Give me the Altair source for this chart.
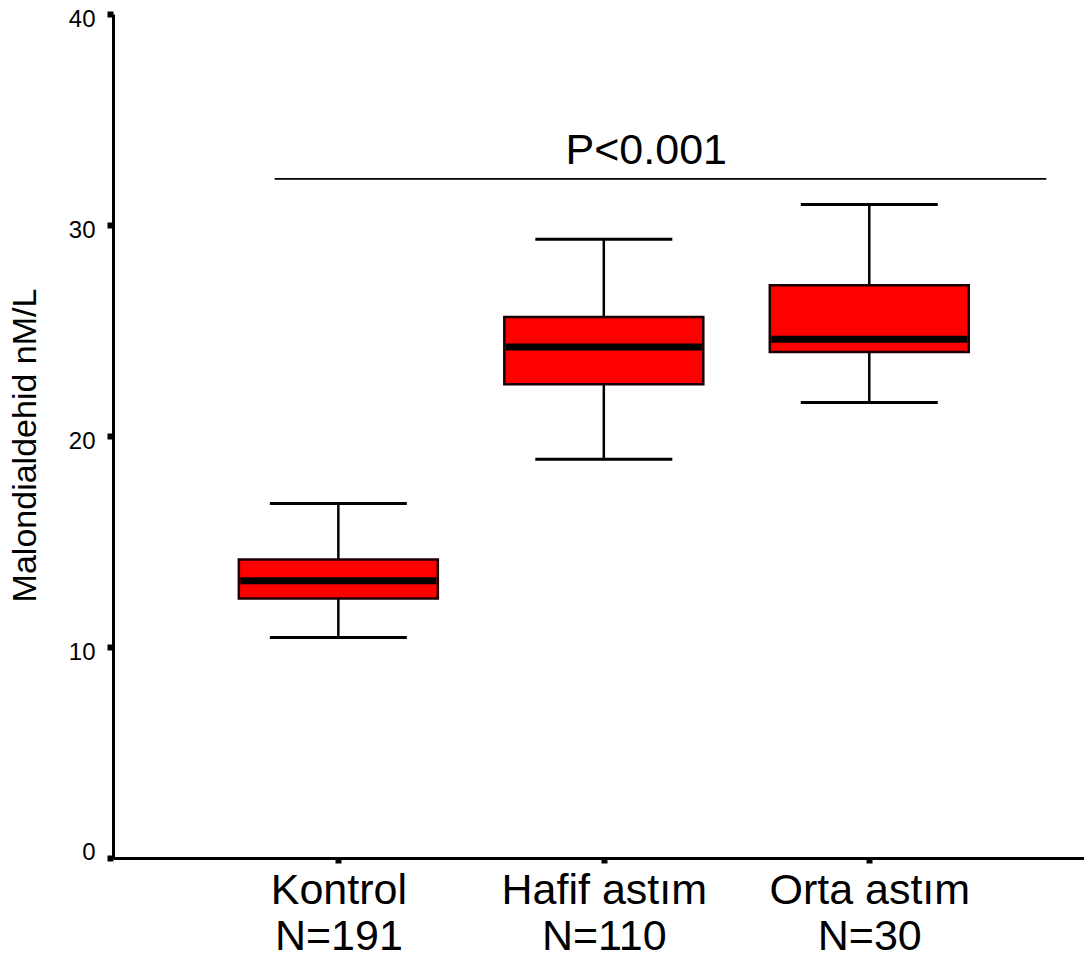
import altair as alt
import pandas as pd

# Data
groups = ["Kontrol", "Hafif astım", "Orta astım"]
n_labels = ["N=191", "N=110", "N=30"]
positions = [0, 1, 2]
whisker_low = [10.45, 18.90, 21.59]
q1 = [12.30, 22.45, 23.98]
median = [13.14, 24.22, 24.59]
q3 = [14.15, 25.64, 27.14]
whisker_high = [16.80, 29.32, 30.97]

# significance annotation
p_text = ["P<0.001"]
p_line_start = [-0.24]
p_line_end = [2.667]
p_line_y = [32.19]
p_text_x = [1.16]
p_text_y = [32.9]

y_ticks = [0, 10, 20, 30, 40]
x_domain = [-0.83, 2.79]
y_domain = [0, 40]

df = pd.DataFrame({
    "pos": positions, "group": groups, "n": n_labels,
    "low": whisker_low, "q1": q1, "med": median, "q3": q3, "high": whisker_high,
})
ann = pd.DataFrame({
    "x0": p_line_start, "x1": p_line_end, "ly": p_line_y,
    "tx": p_text_x, "ty": p_text_y, "label": p_text,
})

FONT = "Liberation Sans"

label_expr = " : ".join(
    [f"datum.value == {p} ? ['{g}', '{n}']" for p, g, n in zip(positions, groups, n_labels)]
) + " : ''"

xscale = alt.Scale(domain=x_domain, nice=False, zero=False)
yscale = alt.Scale(domain=y_domain, nice=False, zero=False)

x_enc = alt.X(
    "pos:Q", scale=xscale,
    axis=alt.Axis(
        values=positions, labelExpr=label_expr, title=None, grid=False,
        labelFontSize=43, labelLineHeight=46, labelFont=FONT, labelColor="black",
        labelPadding=6, tickSize=5, tickWidth=6, tickColor="black", labelLimit=0,
        domainWidth=3, domainColor="black", labelBaseline="top",
    ),
)
y_enc = alt.Y(
    "low:Q", scale=yscale,
    axis=alt.Axis(
        values=y_ticks, title="Malondialdehid nM/L", grid=False,
        labelFontSize=24, labelFont=FONT, labelColor="black", labelPadding=12,
        labelOffset={"condition": {"test": "datum.value == 0", "value": -6}, "value": 5},
        tickSize=6, tickWidth=6, tickColor="black", domainWidth=3, domainColor="black",
        titleFontSize=34, titleFont=FONT, titleFontWeight="normal", titleColor="black",
        titlePadding=26, titleY=431,
    ),
)

base = alt.Chart(df)

whiskers = base.mark_rule(color="black", strokeWidth=2.5, opacity=1).encode(
    x=x_enc, y=y_enc, y2="high:Q"
)
cap_low = base.mark_tick(orient="horizontal", size=137, thickness=3, color="black", opacity=1).encode(
    x=alt.X("pos:Q", scale=xscale), y=alt.Y("low:Q", scale=yscale)
)
cap_high = base.mark_tick(orient="horizontal", size=137, thickness=3, color="black", opacity=1).encode(
    x=alt.X("pos:Q", scale=xscale), y=alt.Y("high:Q", scale=yscale)
)
boxes = base.mark_bar(size=199, color="#ff0000", stroke="#1a0000", strokeWidth=2.5, opacity=1).encode(
    x=alt.X("pos:Q", scale=xscale), y=alt.Y("q1:Q", scale=yscale), y2="q3:Q"
)
medians = base.mark_tick(orient="horizontal", size=196, thickness=7, color="black", opacity=1).encode(
    x=alt.X("pos:Q", scale=xscale), y=alt.Y("med:Q", scale=yscale)
)

annb = alt.Chart(ann)
p_line = annb.mark_rule(color="black", strokeWidth=1.8).encode(
    x=alt.X("x0:Q", scale=xscale), x2="x1:Q", y=alt.Y("ly:Q", scale=yscale)
)
p_label = annb.mark_text(fontSize=43, font=FONT, color="black", baseline="alphabetic", align="center").encode(
    x=alt.X("tx:Q", scale=xscale), y=alt.Y("ty:Q", scale=yscale), text="label:N"
)

chart = alt.layer(whiskers, cap_low, cap_high, boxes, medians, p_line, p_label).properties(
    width=971, height=844, background="white",
    autosize=alt.AutoSizeParams(type="none"),
    padding={"left": 105, "right": 0, "top": 6, "bottom": 95},
).configure_view(stroke=None, strokeWidth=0)

chart.save("out.html", embed_options={"renderer": "svg", "actions": False})
